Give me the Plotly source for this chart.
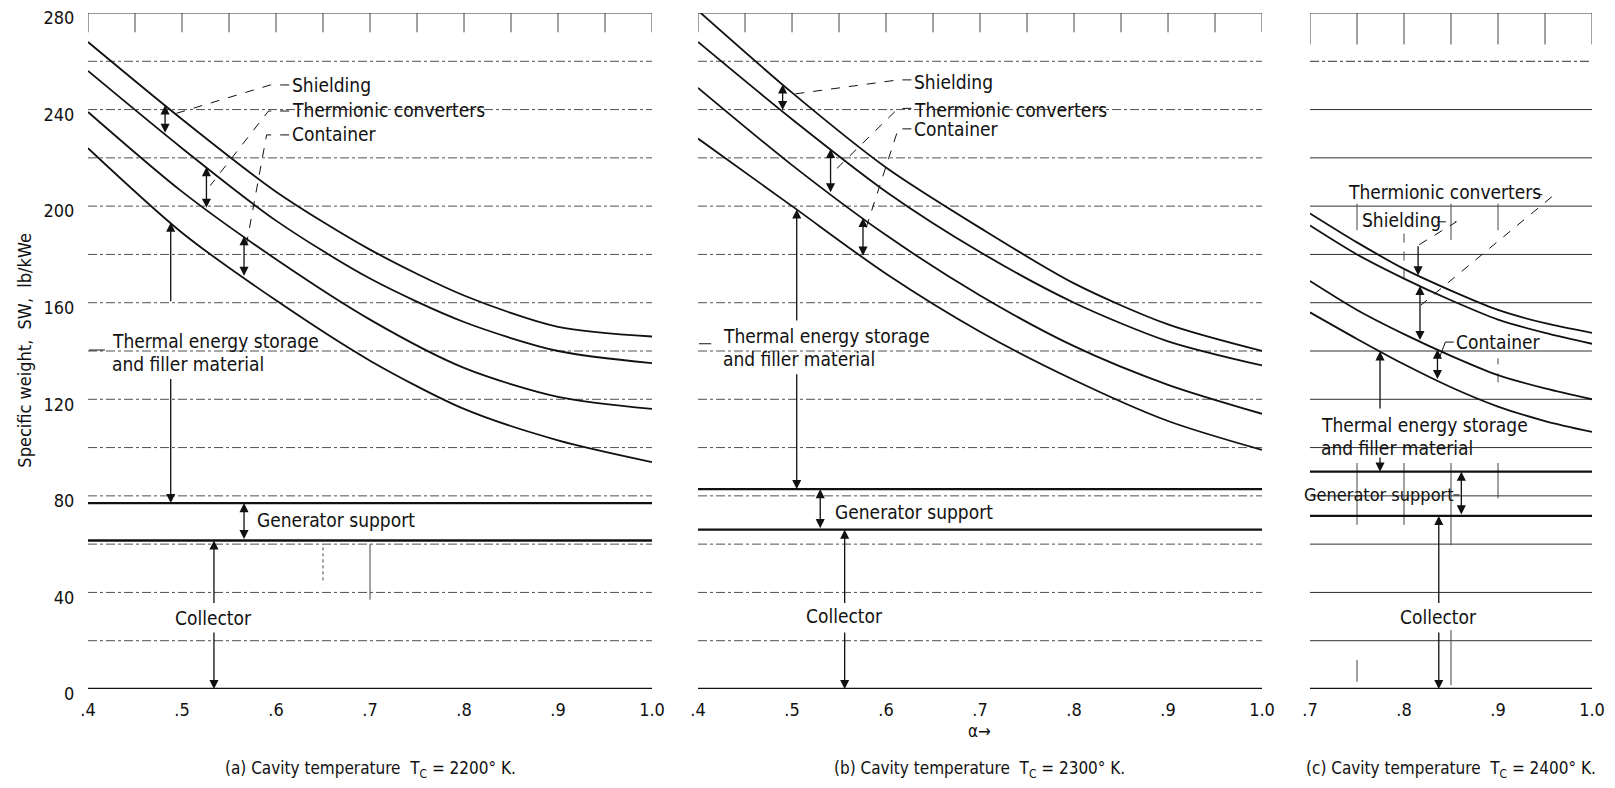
import numpy as np
import plotly.graph_objects as go

# ---------------- data ----------------
alpha_ab = [0.4, 0.5, 0.6, 0.7, 0.8, 0.9, 1.0]
alpha_c = [0.7, 0.75, 0.8, 0.85, 0.9, 0.95, 1.0]

# (a) Tc = 2200 K  -- upper edges of each stacked component, lb/kWe
a_shielding = [268, 236, 206, 182, 163, 150, 146]
a_converters = [256, 224, 194, 170, 152, 140, 135]
a_container = [239, 206, 178, 153, 133, 121, 116]
a_storage = [224, 189, 161, 136, 116, 103, 94]
a_support = 77.0
a_collector = 61.5

# (b) Tc = 2300 K
b_shielding = [281, 247, 216, 191, 168, 151, 140]
b_converters = [268, 236, 206, 181, 160, 144, 134]
b_container = [249, 217, 188, 163, 142, 126, 114]
b_storage = [228, 200, 172, 148, 128, 111, 99]
b_support = 82.8
b_collector = 66.0

# (c) Tc = 2400 K
c_shielding = [197, 185, 174, 165, 157, 151.5, 147.5]
c_converters = [192, 180, 170, 161, 153, 147.5, 143]
c_container = [169, 157, 147, 138, 130, 124.5, 120]
c_storage = [156, 145, 134.5, 125, 117, 111, 106.5]
c_support = 90.0
c_collector = 71.7

x_ticks_ab = [0.4, 0.5, 0.6, 0.7, 0.8, 0.9, 1.0]
x_text_ab = [".4", ".5", ".6", ".7", ".8", ".9", "1.0"]
x_ticks_c = [0.7, 0.8, 0.9, 1.0]
x_text_c = [".7", ".8", ".9", "1.0"]
y_ticks = [0, 40, 80, 120, 160, 200, 240, 280]
y_text = ["0", "40", "80", "120", "160", "200", "240", "280"]
grid_levels = [20, 40, 60, 80, 100, 120, 140, 160, 180, 200, 220, 240, 260]

captions = ["(a) Cavity temperature  T<sub>C</sub> = 2200° K.",
            "(b) Cavity temperature  T<sub>C</sub> = 2300° K.",
            "(c) Cavity temperature  T<sub>C</sub> = 2400° K."]

FONT = "Liberation Sans Narrow, Arial Narrow, DejaVu Sans Condensed, sans-serif"
INK = "#111111"

panels = [
    dict(xa="x", alpha=alpha_ab, curves=[a_shielding, a_converters, a_container, a_storage],
         support=a_support, collector=a_collector, grid_dash="dashdot"),
    dict(xa="x2", alpha=alpha_ab, curves=[b_shielding, b_converters, b_container, b_storage],
         support=b_support, collector=b_collector, grid_dash="dashdot"),
    dict(xa="x3", alpha=alpha_c, curves=[c_shielding, c_converters, c_container, c_storage],
         support=c_support, collector=c_collector, grid_dash="solid"),
]

fig = go.Figure()
shapes = []
annotations = []


def at(alpha, curve, a):
    return float(np.interp(a, alpha, curve))


def hline(xa, x0, x1, y, width=1.0, dash="solid", color="#555555"):
    shapes.append(dict(type="line", xref=xa, yref="y", x0=x0, x1=x1, y0=y, y1=y,
                       line=dict(color=color, width=width, dash=dash), layer="below"))


def vline(xa, x, y0, y1, width=1.0, dash="solid", color="#444444"):
    shapes.append(dict(type="line", xref=xa, yref="y", x0=x, x1=x, y0=y0, y1=y1,
                       line=dict(color=color, width=width, dash=dash), layer="below"))


def leader(xa, pts, dash="dash"):
    path = "M " + " L ".join(f"{px} {py}" for px, py in pts)
    shapes.append(dict(type="path", xref=xa, yref="y", path=path,
                       line=dict(color=INK, width=1.0, dash=dash)))


def arrow(xa, x, y_head, y_tail, both=False):
    annotations.append(dict(xref=xa, yref="y", axref=xa, ayref="y", x=x, y=y_head, ax=x, ay=y_tail,
                            text="", showarrow=True, arrowhead=2, arrowsize=1.4, arrowwidth=1.3,
                            startarrowhead=2, startarrowsize=1.4,
                            arrowside="end+start" if both else "end", arrowcolor=INK))


def label(xa, x, y, text, anchor="left", size=19, xshift=0):
    annotations.append(dict(xref=xa, yref="y", x=x, y=y, text=text, showarrow=False,
                            xanchor=anchor, yanchor="middle", align="left", xshift=xshift,
                            font=dict(family=FONT, size=size, color=INK)))


def label2(xa, x, y, line1, line2, gap=9.5):
    label(xa, x, y + gap / 2, line1)
    label(xa, x, y - gap / 2, line2)


# ---------------- panels: grid, curves, levels ----------------
for p in panels:
    xa = p["xa"]
    al = p["alpha"]
    lo, hi = al[0], al[-1]
    for g in grid_levels:
        d = p["grid_dash"]
        if xa == "x3" and g == 260:
            d = "dashdot"
        hline(xa, lo, hi, g, width=1.0, dash=d, color="#505050" if xa != "x3" else "#303030")
    # top border and short vertical ruling at the top
    hline(xa, lo, hi, 280, width=1.2, dash="solid", color="#333333")
    tick_len = 267 if xa == "x3" else 272
    for k in np.arange(lo, hi + 1e-9, 0.05):
        vline(xa, float(k), tick_len, 280, width=1.0)
    for curve in p["curves"]:
        fig.add_trace(go.Scatter(x=al, y=curve, xaxis=xa, yaxis="y", mode="lines",
                                 line=dict(color=INK, width=1.8, shape="spline", smoothing=0.8),
                                 hoverinfo="skip", showlegend=False))
    for lvl in (p["support"], p["collector"], 0):
        fig.add_trace(go.Scatter(x=[lo, hi], y=[lvl, lvl], xaxis=xa, yaxis="y", mode="lines",
                                 line=dict(color=INK, width=2.3), hoverinfo="skip", showlegend=False))

# stray graph-paper ruling visible in the scan
vline("x", 0.7, 37, 60, width=1.0)
vline("x", 0.65, 45, 60, width=1.0, dash="dot")
vline("x3", 0.75, 190, 201)
vline("x3", 0.85, 186, 201)
vline("x3", 0.9, 190, 201)
vline("x3", 0.8, 170, 190, dash="dash")
vline("x3", 0.9, 127, 137, dash="dash")
for xv, y0, y1 in [(0.75, 68, 93.6), (0.8, 68, 93.6), (0.85, 59.6, 93.6), (0.9, 79, 93.6),
                   (0.75, 3, 12), (0.85, 1.6, 24.4)]:
    vline("x3", xv, y0, y1)

# ---------------- panel (a) annotations ----------------
A = alpha_ab
label("x", 0.615, 250.0, "Shielding")
label("x", 0.615, 239.8, "Thermionic converters")
label("x", 0.615, 229.7, "Container")
xs = 0.482
arrow("x", xs, at(A, a_shielding, xs), at(A, a_converters, xs), both=True)
leader("x", [(0.614, 250.2), (0.594, 250.2), (0.486, 237.5)])
xt = 0.526
arrow("x", xt, at(A, a_converters, xt), at(A, a_container, xt), both=True)
leader("x", [(0.614, 239.4), (0.592, 239.4), (0.530, 208.5)])
xc = 0.566
arrow("x", xc, at(A, a_container, xc), at(A, a_storage, xc), both=True)
leader("x", [(0.614, 229.5), (0.590, 229.5), (0.568, 183.0)])
xe = 0.488
arrow("x", xe, at(A, a_storage, xe), 160)
arrow("x", xe, a_support, 129)
label2("x", 0.423, 139.5, "Thermal energy storage", "and filler material")
leader("x", [(0.401, 140.4), (0.418, 140.4)], dash="solid")
arrow("x", 0.566, a_support, a_collector, both=True)
label("x", 0.578, 70.0, "Generator support")
arrow("x", 0.534, a_collector, 35)
arrow("x", 0.534, 0, 24)
label("x", 0.534, 29.4, "Collector", anchor="center")

# ---------------- panel (b) annotations ----------------
label("x2", 0.628, 251.5, "Shielding")
label("x2", 0.628, 239.8, "Thermionic converters")
label("x2", 0.628, 231.8, "Container")
xs = 0.490
arrow("x2", xs, at(A, b_shielding, xs), at(A, b_converters, xs), both=True)
leader("x2", [(0.627, 252.3), (0.613, 252.3), (0.494, 246.0)])
xt = 0.541
arrow("x2", xt, at(A, b_converters, xt), at(A, b_container, xt), both=True)
leader("x2", [(0.627, 240.5), (0.613, 240.5), (0.543, 213.8)])
xc = 0.5755
arrow("x2", xc, at(A, b_container, xc), at(A, b_storage, xc), both=True)
leader("x2", [(0.627, 232.0), (0.613, 232.0), (0.577, 188.9)])
xe = 0.505
arrow("x2", xe, at(A, b_storage, xe), 152)
arrow("x2", xe, b_support, 131)
label2("x2", 0.4245, 141.5, "Thermal energy storage", "and filler material")
leader("x2", [(0.401, 143.0), (0.414, 143.0)], dash="solid")
arrow("x2", 0.530, b_support, b_collector, both=True)
label("x2", 0.5436, 73.3, "Generator support")
arrow("x2", 0.556, b_collector, 35)
arrow("x2", 0.556, 0, 24)
label("x2", 0.556, 30.2, "Collector", anchor="center")

# ---------------- panel (c) annotations ----------------
C = alpha_c
label("x3", 0.738, 205.9, "Thermionic converters")
label("x3", 0.7536, 194.3, "Shielding")
xs = 0.815
arrow("x3", xs, at(C, c_shielding, xs), 184)
leader("x3", [(0.835, 193.5), (0.8557, 193.5), (0.816, 184.0)])
xt = 0.817
arrow("x3", xt, at(C, c_converters, xt), at(C, c_container, xt), both=True)
leader("x3", [(0.938, 205.5), (0.957, 203.8), (0.818, 159.0)])
xc = 0.8356
arrow("x3", xc, at(C, c_container, xc), at(C, c_storage, xc), both=True)
label("x3", 0.8537, 143.7, "Container")
leader("x3", [(0.853, 143.7), (0.844, 143.7), (0.838, 137.5)], dash="solid")
xe = 0.7745
arrow("x3", xe, at(C, c_storage, xe), 115.6)
arrow("x3", xe, c_support, 96.5)
label2("x3", 0.7096, 104.4, "Thermal energy storage", "and filler material")
arrow("x3", 0.861, c_support, c_collector, both=True)
label("x3", 0.7, 80.4, "Generator support", xshift=-8, size=18)
leader("x3", [(0.8527, 80.4), (0.859, 80.4)], dash="solid")
arrow("x3", 0.837, c_collector, 35)
arrow("x3", 0.837, 0, 24)
label("x3", 0.837, 29.8, "Collector", anchor="center")

# ---------------- captions and axis titles ----------------
for cx, cap in zip([0.1875, 0.593, 0.906], captions):
    annotations.append(dict(xref="paper", yref="paper", x=cx, y=-0.1198, text=cap, showarrow=False,
                            xanchor="center", yanchor="middle",
                            font=dict(family=FONT, size=17, color=INK)))
annotations.append(dict(xref="paper", yref="paper", x=0.593, y=-0.062, text="α→", showarrow=False,
                        xanchor="center", yanchor="middle", font=dict(family=FONT, size=17, color=INK)))
annotations.append(dict(xref="paper", yref="paper", x=-0.0419, y=0.502,
                        text="Specific weight,  SW,  lb/kWe", textangle=-90, showarrow=False,
                        xanchor="center", yanchor="middle", font=dict(family=FONT, size=18, color=INK)))

xaxis_common = dict(showgrid=False, zeroline=False, showline=False, ticks="outside", ticklen=4,
                    tickcolor="rgba(0,0,0,0)", tickfont=dict(family=FONT, size=18, color=INK),
                    anchor="y", fixedrange=True, automargin=False)

# the page body adds an 8 px offset, so the figure is made 16 px smaller and margins shifted
fig.update_layout(
    width=1599, height=772,
    margin=dict(l=80, r=15, t=5, b=91, autoexpand=False),
    paper_bgcolor="white", plot_bgcolor="white",
    showlegend=False,
    xaxis=dict(domain=[0.0, 0.375], range=[0.4, 1.0], tickvals=x_ticks_ab, ticktext=x_text_ab, **xaxis_common),
    xaxis2=dict(domain=[0.4056, 0.7806], range=[0.4, 1.0], tickvals=x_ticks_ab, ticktext=x_text_ab, **xaxis_common),
    xaxis3=dict(domain=[0.8125, 1.0], range=[0.7, 1.0], tickvals=x_ticks_c, ticktext=x_text_c, **xaxis_common),
    yaxis=dict(domain=[0, 1], range=[0, 280], anchor="x", tickvals=y_ticks, ticktext=y_text,
               showgrid=False, zeroline=False, showline=False, ticks="outside", ticklen=9,
               tickcolor="rgba(0,0,0,0)", tickfont=dict(family=FONT, size=18, color=INK),
               ticklabeloverflow="allow", ticklabelshift=5,
               fixedrange=True, automargin=False),
    shapes=shapes,
    annotations=annotations,
)

fig.write_html("out.html")
